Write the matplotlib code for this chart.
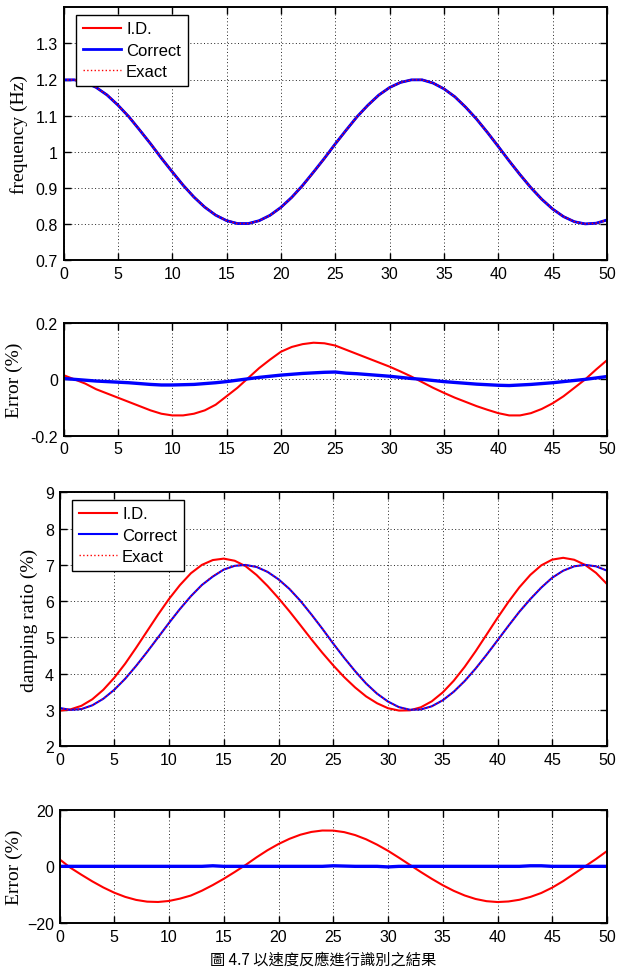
import matplotlib
matplotlib.use("Agg")
import matplotlib.pyplot as plt
import numpy as np

# ---------------- data ----------------
t = list(range(0, 51))

freq_exact = [1.199, 1.199, 1.192, 1.178, 1.157, 1.129, 1.097, 1.060, 1.022, 0.982,
              0.944, 0.907, 0.874, 0.846, 0.824, 0.809, 0.801, 0.801, 0.809, 0.824,
              0.846, 0.874, 0.907, 0.944, 0.982, 1.022, 1.060, 1.097, 1.129, 1.157,
              1.178, 1.192, 1.199, 1.199, 1.190, 1.174, 1.152, 1.123, 1.090, 1.053,
              1.014, 0.974, 0.936, 0.900, 0.868, 0.841, 0.820, 0.806, 0.800, 0.802,
              0.811]

freq_err_id = [0.015, 0.0, -0.015, -0.035, -0.05, -0.065, -0.08, -0.095, -0.11, -0.122,
               -0.128, -0.128, -0.122, -0.11, -0.09, -0.06, -0.03, 0.005, 0.04, 0.07,
               0.098, 0.115, 0.125, 0.13, 0.128, 0.12, 0.105, 0.09, 0.075, 0.06,
               0.045, 0.028, 0.01, -0.01, -0.03, -0.048, -0.065, -0.08, -0.095, -0.108,
               -0.12, -0.128, -0.128, -0.12, -0.105, -0.085, -0.06, -0.03, 0.0, 0.035,
               0.068]

freq_err_cor = [0.003, 0.0, -0.003, -0.006, -0.008, -0.01, -0.012, -0.015, -0.018, -0.02,
                -0.02, -0.019, -0.018, -0.015, -0.012, -0.008, -0.003, 0.002, 0.007, 0.011,
                0.015, 0.018, 0.021, 0.023, 0.025, 0.026, 0.022, 0.02, 0.017, 0.014,
                0.011, 0.007, 0.003, 0.0, -0.004, -0.008, -0.011, -0.014, -0.017, -0.019,
                -0.021, -0.022, -0.02, -0.018, -0.015, -0.012, -0.008, -0.004, 0.0, 0.005,
                0.01]

damp_exact = [3.058, 3.002, 3.026, 3.130, 3.310, 3.557, 3.862, 4.217, 4.600, 5.000,
              5.400, 5.784, 6.137, 6.445, 6.691, 6.870, 6.974, 6.998, 6.942, 6.807,
              6.602, 6.336, 6.009, 5.635, 5.242, 4.840, 4.443, 4.070, 3.731, 3.451,
              3.227, 3.079, 3.007, 3.015, 3.103, 3.268, 3.503, 3.798, 4.141, 4.521,
              4.919, 5.320, 5.709, 6.069, 6.387, 6.647, 6.839, 6.960, 7.000, 6.960,
              6.841]

damp_err_id = [2.5, -0.5, -2.96, -5.31, -7.45, -9.30, -10.78, -11.85, -12.46, -12.58,
               -12.22, -11.4, -10.3, -8.6, -6.6, -4.4, -2.0, 0.5, 3.2, 5.7,
               7.88, 9.72, 11.17, 12.15, 12.65, 12.62, 12.08, 11.04, 9.55, 7.66,
               5.49, 3.05, 0.52, -2.00, -4.41, -6.66, -8.64, -10.28, -11.52, -12.30,
               -12.60, -12.40, -11.8, -10.8, -9.4, -7.5, -5.2, -2.6, 0.0, 2.6,
               5.4]

damp_err_cor = [0.0, 0.0, 0.0, 0.0, 0.0, 0.0, 0.0, 0.0, 0.0, 0.0,
                0.0, 0.0, 0.0, 0.0, 0.2, 0.0, 0.0, 0.0, 0.0, 0.0,
                0.0, 0.0, 0.0, 0.0, 0.0, 0.2, 0.1, 0.0, 0.0, 0.0,
                -0.2, 0.0, 0.0, 0.0, 0.0, 0.0, 0.0, 0.0, 0.0, 0.0,
                0.0, 0.0, 0.0, 0.2, 0.2, 0.0, 0.0, 0.0, 0.0, 0.0,
                0.0]

xticks = [0, 5, 10, 15, 20, 25, 30, 35, 40, 45, 50]
caption = "圖 4.7 以速度反應進行識別之結果"

# ---------------- derived series ----------------
fe = np.array(freq_exact)
de = np.array(damp_exact)
freq_id = fe * (1 - np.array(freq_err_id) / 100)
freq_cor = fe * (1 - np.array(freq_err_cor) / 100)
damp_id = de * (1 - np.array(damp_err_id) / 100)
damp_cor = de * (1 - np.array(damp_err_cor) / 100)

# ---------------- figure ----------------
W, H = 621, 970
fig = plt.figure(figsize=(W / 100, H / 100), dpi=100)

TICKFONT = "Liberation Sans"
LABFONT = "Liberation Serif"


def make_ax(left, top, right, bottom):
    return fig.add_axes([left / W, 1 - bottom / H, (right - left) / W, (bottom - top) / H])


def style(ax, yticks, ylim, ylabel, ylab_x, yticklabels=None):
    ax.set_xlim(0, 50)
    ax.set_ylim(*ylim)
    ax.set_xticks(xticks)
    ax.set_yticks(yticks)
    if yticklabels is not None:
        ax.set_yticklabels(yticklabels)
    ax.grid(True, linestyle=(0, (1, 2.5)), color="#222222", linewidth=0.7)
    ax.tick_params(direction="in", length=5, width=1, top=True, right=True,
                   labelsize=11.5, pad=4)
    for lab in ax.get_xticklabels() + ax.get_yticklabels():
        lab.set_fontfamily(TICKFONT)
    for s in ax.spines.values():
        s.set_linewidth(1.4)
    ax.set_ylabel(ylabel, fontfamily=LABFONT, fontsize=14, va="center")
    l, b, w, h = ax.get_position().bounds
    ax.yaxis.set_label_coords((ylab_x / W - l) / w, 0.5)


def add_legend(ax, x_px, y_px, left, top, width, height):
    leg = ax.legend(loc="upper left",
                    bbox_to_anchor=((x_px - left) / width, 1 - (y_px - top) / height),
                    borderaxespad=0, fancybox=False, edgecolor="black", framealpha=1,
                    prop={"family": TICKFONT, "size": 12}, handlelength=2.3,
                    labelspacing=0.38, handletextpad=0.3, borderpad=0.4)
    leg.get_frame().set_linewidth(1.0)
    return leg


# Panel 1: frequency
ax1 = make_ax(63.5, 8.3, 607, 261)
ax1.plot(t, freq_id, color="red", lw=1.5, label="I.D.")
ax1.plot(t, freq_cor, color="blue", lw=2.0, label="Correct")
ax1.plot(t, freq_exact, color="red", lw=1.0, ls=":", label="Exact")
style(ax1, [0.7, 0.8, 0.9, 1.0, 1.1, 1.2, 1.3], (0.7, 1.4), "frequency (Hz)", 19,
      ["0.7", "0.8", "0.9", "1", "1.1", "1.2", "1.3"])
add_legend(ax1, 76, 15.7, 63.5, 8.3, 543.5, 252.7)

# Panel 2: frequency error
ax2 = make_ax(63.5, 324, 607, 436.7)
ax2.plot(t, freq_err_id, color="red", lw=1.5)
ax2.plot(t, freq_err_cor, color="blue", lw=2.4)
style(ax2, [-0.2, 0, 0.2], (-0.2, 0.2), "Error (%)", 14, ["-0.2", "0", "0.2"])

# Panel 3: damping ratio
ax3 = make_ax(59.5, 493.3, 607, 747.3)
ax3.plot(t, damp_id, color="red", lw=1.5, label="I.D.")
ax3.plot(t, damp_cor, color="blue", lw=1.5, label="Correct")
ax3.plot(t, damp_exact, color="red", lw=1.0, ls=":", label="Exact")
style(ax3, [2, 3, 4, 5, 6, 7, 8, 9], (2, 9), "damping ratio (%)", 29)
add_legend(ax3, 72, 500.7, 59.5, 493.3, 547.5, 254)

# Panel 4: damping error
ax4 = make_ax(59.5, 810.7, 607, 924)
ax4.plot(t, damp_err_id, color="red", lw=1.5)
ax4.plot(t, damp_err_cor, color="blue", lw=2.4)
style(ax4, [-20, 0, 20], (-20, 20), "Error (%)", 14)

fig.text(323 / W, 1 - 968.5 / H, caption, ha="center", va="bottom", fontsize=11,
         family=["Noto Sans CJK TC", "DejaVu Sans"])

fig.savefig("out.png", dpi=100)
